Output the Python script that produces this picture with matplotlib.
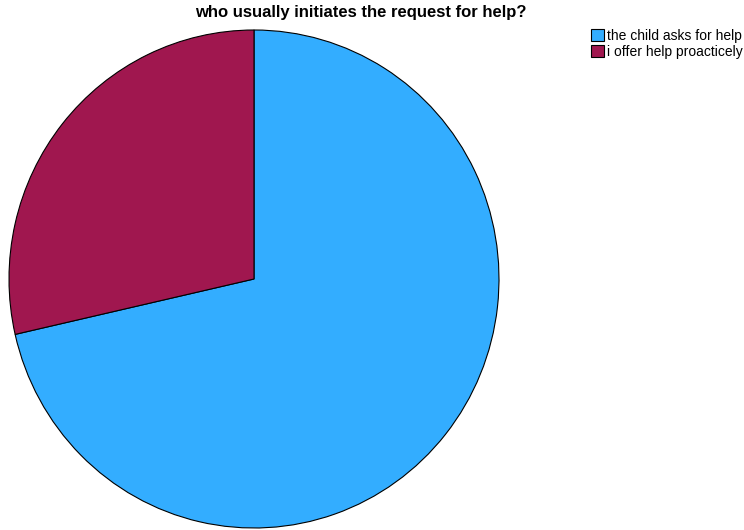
import matplotlib.pyplot as plt

labels = ['the child asks for help', 'i offer help proacticely']
counts = [5, 2]
colors = ['#33adff', '#a0174f']

plt.rcParams['font.family'] = ['Liberation Sans', 'DejaVu Sans']

fig = plt.figure(figsize=(7.44, 5.30), dpi=100)
# the pie is drawn slightly taller than wide
ax = fig.add_axes([9 / 744, 2 / 530, 490 / 744, 498 / 530])

wedges, _ = ax.pie(counts, colors=colors, startangle=90, counterclock=False,
                   radius=1.0, wedgeprops=dict(edgecolor='black', linewidth=0.8))
ax.set_xlim(-1.0, 1.0)
ax.set_ylim(-1.0, 1.0)
ax.set_aspect('auto')

fig.text(361 / 744, 1 - 13 / 530, 'who usually initiates the request for help?',
         ha='center', va='center', fontsize=12, fontweight='bold')

fig.legend(wedges, labels, loc='upper left',
           bbox_to_anchor=(591 / 744, 1 - 29 / 530), frameon=False,
           fontsize=10, handlelength=0.95, handleheight=0.95,
           handletextpad=0.2, labelspacing=0.15, borderpad=0, borderaxespad=0)

fig.savefig('out.png', dpi=100)
